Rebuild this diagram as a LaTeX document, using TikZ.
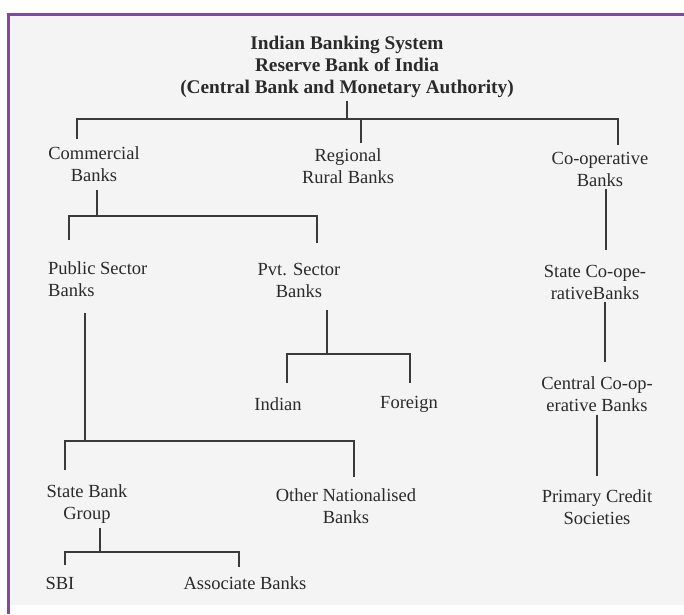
\documentclass[tikz,border=0pt]{standalone}
\usepackage{fontspec}
\setmainfont{Liberation Serif}
\definecolor{bgc}{HTML}{F4F4F4}
\definecolor{purp}{HTML}{7D4BA6}
\definecolor{txt}{HTML}{2A2A2A}
\definecolor{lnc}{HTML}{3A3A3A}
\begin{document}
\begin{tikzpicture}[x=1pt,y=-1pt,
  lbl/.style={font=\fontsize{18.5}{22}\selectfont, inner sep=0pt, align=center, text=txt},
  ttl/.style={font=\bfseries\fontsize{19.3}{22}\selectfont, inner sep=0pt, align=center, text=txt},
  conn/.style={draw=lnc, line width=1.2pt}]
\useasboundingbox (0,0) rectangle (684,614);
\fill[white] (0,0) rectangle (684,614);
\fill[bgc] (9,16) rectangle (684,605);
\draw[purp, line width=3pt] (6.5,14.5) -- (684,14.5);
\draw[purp, line width=3pt] (8,13) -- (8,614);

% nodes
\node[ttl] (title) at (347,66.5) {Indian Banking System\\Reserve Bank of India\\(Central Bank and Monetary Authority)};
\node[lbl] (commercial) at (94,164.5) {Commercial\\Banks};
\node[lbl] (regional) at (348,166.5) {Regional\\Rural Banks};
\node[lbl] (coop) at (600,169.5) {Co-operative\\Banks};
\node[lbl, align=left, anchor=west] (public) at (48,279) {Public Sector\\Banks};
\node[lbl] (pvt) at (299,280) {Pvt. Sector\\Banks};
\node[lbl] (statecoop) at (595,282) {State Co-ope-\\rativeBanks};
\node[lbl] (indian) at (278,404) {Indian};
\node[lbl] (foreign) at (409,404) {Foreign};
\node[lbl] (centralcoop) at (597,394.5) {Central Co-op-\\erative Banks};
\node[lbl] (sbg) at (87,504.5) {State Bank\\Group};
\node[lbl] (other) at (346,506) {Other Nationalised\\Banks};
\node[lbl] (primary) at (597,507.5) {Primary Credit\\Societies};
\node[lbl] (sbi) at (60,583) {SBI};
\node[lbl] (assoc) at (245,583) {Associate Banks};

% junction coordinates
\coordinate (t0) at (347,101);
\coordinate (t1) at (347,119);
\coordinate (b1l) at (77,119);
\coordinate (b1r) at (618,119);
\coordinate (b1m) at (361,119);
\coordinate (c1) at (77,139);
\coordinate (r1) at (361,143);
\coordinate (o1) at (618,145);

\coordinate (cm0) at (97,190);
\coordinate (cm1) at (97,216);
\coordinate (b2l) at (69,216);
\coordinate (b2r) at (317,216);
\coordinate (p1) at (69,240);
\coordinate (v1) at (317,243);

\coordinate (pv0) at (327,310);
\coordinate (pv1) at (327,354);
\coordinate (b3l) at (287,354);
\coordinate (b3r) at (410,354);
\coordinate (in1) at (287,383);
\coordinate (fo1) at (410,383);

\coordinate (pu0) at (85,313);
\coordinate (pu1) at (85,441);
\coordinate (b4l) at (65,441);
\coordinate (b4r) at (354,441);
\coordinate (sb1) at (65,470);
\coordinate (ot1) at (354,477);

\coordinate (sg0) at (100,528);
\coordinate (sg1) at (100,552);
\coordinate (b5l) at (65,552);
\coordinate (b5r) at (239,552);
\coordinate (sbi1) at (65,565);
\coordinate (as1) at (239,567);

\coordinate (co0) at (606,189);
\coordinate (co1) at (606,250);
\coordinate (sc0) at (605,302);
\coordinate (sc1) at (605,362);
\coordinate (cc0) at (597,415);
\coordinate (cc1) at (597,476);

% connectors
\draw[conn] (t0) -- (t1);
\draw[conn] (c1) -- (b1l) -- (b1r) -- (o1);
\draw[conn] (b1m) -- (r1);

\draw[conn] (cm0) -- (cm1);
\draw[conn] (p1) -- (b2l) -- (b2r) -- (v1);

\draw[conn] (pv0) -- (pv1);
\draw[conn] (in1) -- (b3l) -- (b3r) -- (fo1);

\draw[conn] (pu0) -- (pu1);
\draw[conn] (sb1) -- (b4l) -- (b4r) -- (ot1);

\draw[conn] (sg0) -- (sg1);
\draw[conn] (sbi1) -- (b5l) -- (b5r) -- (as1);

\draw[conn] (co0) -- (co1);
\draw[conn] (sc0) -- (sc1);
\draw[conn] (cc0) -- (cc1);
\end{tikzpicture}
\end{document}
